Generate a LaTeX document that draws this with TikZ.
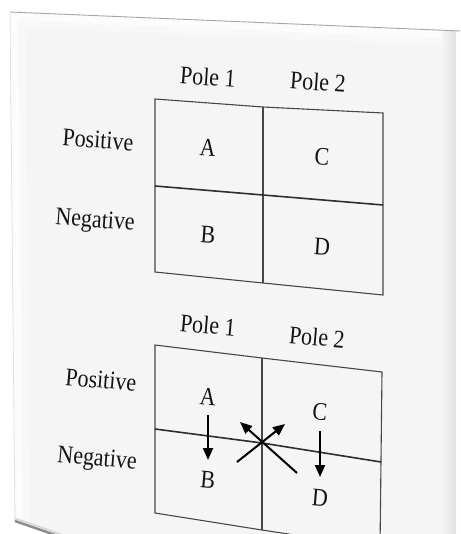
\documentclass[tikz,border=0pt]{standalone}
\usepackage{fontspec}
\usepackage{graphicx}
\setmainfont{Liberation Serif}
\usetikzlibrary{arrows.meta}
\newcommand{\tallt}[1]{\scalebox{1}[1.15]{#1}}
\begin{document}
\begin{tikzpicture}[x=1pt,y=-1pt,
  gridline/.style={draw=black!72, line width=1.1pt},
  midline/.style={draw=black!82, line width=1.6pt},
  lbl/.style={font=\fontsize{22}{26}\selectfont, text=black!92, inner sep=1pt},
  toplbl/.style={lbl, rotate=-4},
  botlbl/.style={lbl, rotate=-5},
  arr/.style={draw=black, line width=2pt, -{Triangle[length=12pt,width=10pt]}},
]
\useasboundingbox (0,0) rectangle (460,534);
\fill[white] (0,0) rectangle (460,534);
% page
\coordinate (p1) at (10,12);
\coordinate (p2) at (460,31);
\coordinate (p3) at (460,540);
\coordinate (p4) at (70,540);
\coordinate (p5) at (15,521);
\fill[black!4] (p1) -- (p2) -- (p3) -- (p4) -- (p5) -- cycle;
\begin{scope}
  \clip (p1) -- (p2) -- (p3) -- (p4) -- (p5) -- cycle;
  \draw[white, line width=16pt] (p5) -- (p1) -- (p2);
  \draw[white!60!black!4, line width=30pt, opacity=0.6] (p5) -- (p1) -- (p2);
  \shade[left color=black!4, right color=black!12] (442,20) rectangle (456,540);
  \fill[white] (456,20) rectangle (461,540);
\end{scope}
\draw[black!35, line width=0.9pt] (p1) -- (p2);
\draw[black!12, line width=0.8pt] (p1) -- (p5);
\draw[black!45, line width=2.5pt] (p5) -- (p4);
\draw[black!15, line width=2pt] ([yshift=2.5pt]p5) -- ([yshift=2.5pt]p4);

% top grid
\coordinate (t00) at (155,99);  \coordinate (t10) at (263,107); \coordinate (t20) at (383,113);
\coordinate (t01) at (155,186); \coordinate (t11) at (263,195); \coordinate (t21) at (383,205);
\coordinate (t02) at (155,272); \coordinate (t12) at (263,283); \coordinate (t22) at (383,295);
\draw[gridline] (t00) -- (t10) -- (t20) -- (t22) -- (t12) -- (t02) -- cycle;
\draw[gridline] (t10) -- (t12);
\draw[midline] (t01) -- (t11) -- (t21);

\node[toplbl] (tpole1) at (208,77) {\tallt{Pole 1}};
\node[toplbl] (tpole2) at (318,82) {\tallt{Pole 2}};
\node[toplbl] (tpos) at (98,140) {\tallt{Positive}};
\node[toplbl] (tneg) at (95,222) {\tallt{Negative}};
\node[toplbl] (tA) at (208,148) {\tallt{A}};
\node[toplbl] (tC) at (322,157) {\tallt{C}};
\node[toplbl] (tB) at (208,235) {\tallt{B}};
\node[toplbl] (tD) at (322,247) {\tallt{D}};

% bottom grid
\coordinate (b00) at (155,345); \coordinate (b10) at (262,358); \coordinate (b20) at (382,372);
\coordinate (b01) at (155,429); \coordinate (b11) at (262,443); \coordinate (b21) at (381,462);
\coordinate (b02) at (155,513); \coordinate (b12) at (262,530); \coordinate (b22) at (380,548);
\draw[gridline] (b00) -- (b10) -- (b20) -- (b22) -- (b12) -- (b02) -- cycle;
\draw[gridline] (b10) -- (b12);
\draw[midline] (b01) -- (b11) -- (b21);

\node[botlbl] (bpole1) at (208,325) {\tallt{Pole 1}};
\node[botlbl] (bpole2) at (317,337) {\tallt{Pole 2}};
\node[botlbl] (bpos) at (101,380) {\tallt{Positive}};
\node[botlbl] (bneg) at (97,460) {\tallt{Negative}};
\node[botlbl] (bA) at (208,397) {\tallt{A}};
\node[botlbl] (bC) at (320,412) {\tallt{C}};
\node[botlbl] (bB) at (208,480) {\tallt{B}};
\node[botlbl] (bD) at (320,498) {\tallt{D}};

% arrows
\draw[arr, shorten <=18pt, shorten >=20pt] (bA.center) -- (bB.center);
\draw[arr, shorten <=19pt, shorten >=21pt] (bC.center) -- (bD.center);
\coordinate (x1s) at (237,462); \coordinate (x1e) at (285,424);
\coordinate (x2s) at (297,473); \coordinate (x2e) at (240,422);
\draw[arr] (x1s) -- (x1e);
\draw[arr] (x2s) -- (x2e);
\end{tikzpicture}
\end{document}
